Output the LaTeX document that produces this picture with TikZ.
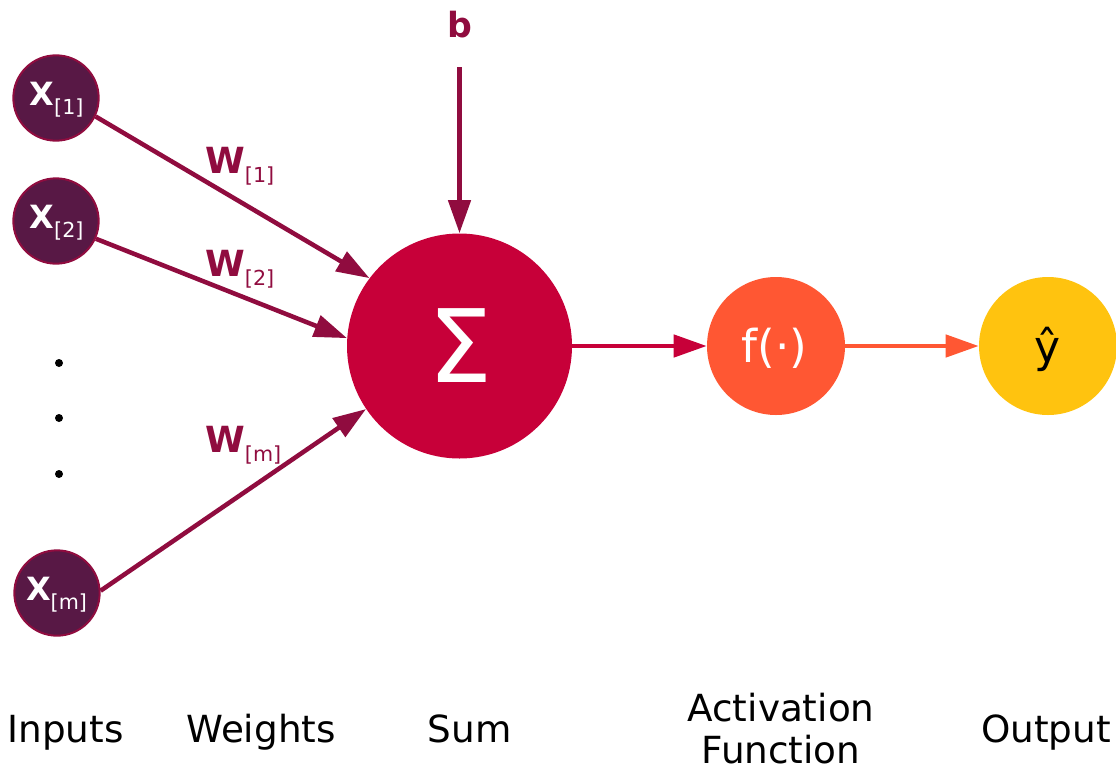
\documentclass[tikz,border=0pt]{standalone}
\usepackage{fontspec}
\setmainfont{DejaVu Sans}
\usetikzlibrary{arrows.meta}
\definecolor{cIn}{HTML}{581845}
\definecolor{cW}{HTML}{900C3F}
\definecolor{cSum}{HTML}{C70039}
\definecolor{cAct}{HTML}{FF5733}
\definecolor{cOut}{HTML}{FFC30F}
\newcommand\myXlab[1]{\fontsize{24}{24}\selectfont\bfseries X\raisebox{-6.75pt}{\fontsize{15.5}{15.5}\selectfont\mdseries[#1]}}
\newcommand\myWlab[1]{\fontsize{27}{27}\selectfont\bfseries W\raisebox{-6.75pt}{\fontsize{15.5}{15.5}\selectfont\mdseries[#1]}}
\begin{document}
\begin{tikzpicture}[x=0.75pt,y=-0.75pt,
  inputnode/.style={circle, fill=cIn, draw=cW, line width=1.5pt, minimum size=64pt, inner sep=0pt},
  sumnode/.style={circle, fill=cSum, minimum size=168.75pt, inner sep=0pt},
  actnode/.style={circle, fill=cAct, minimum size=103.5pt, inner sep=0pt},
  outnode/.style={circle, fill=cOut, minimum size=103.5pt, inner sep=0pt},
  dotnode/.style={circle, fill=black, minimum size=6pt, inner sep=0pt},
  xtext/.style={text=white, inner sep=0pt, anchor=base},
  wtext/.style={text=cW, inner sep=0pt, anchor=base west},
  lab/.style={inner sep=0pt, anchor=base, font=\fontsize{28}{31.5}\selectfont},
  tip/.style={-{Triangle[length=24.75pt,width=16.5pt]}},
  warrow/.style={draw=cW, line width=3.4pt, tip},
  sarrow/.style={draw=cSum, line width=3.4pt, tip},
  aarrow/.style={draw=cAct, line width=3.4pt, tip}
]
\useasboundingbox (0,0) rectangle (1116,768);
% neurons
\node[inputnode] (x1) at (56,98) {};
\node[inputnode] (x2) at (56,221) {};
\node[inputnode] (xm) at (57,593) {};
\node[sumnode] (sum) at (459.5,346) {};
\node[actnode] (act) at (776,346) {};
\node[outnode] (out) at (1048,346) {};
% input texts
\node[xtext] (x1t) at (56.5,105) {\myXlab{1}};
\node[xtext] (x2t) at (56.5,228) {\myXlab{2}};
\node[xtext] (xmt) at (56.5,600) {\myXlab{m}};
% dots
\node[dotnode] (d1) at (59,363) {};
\node[dotnode] (d2) at (59,418) {};
\node[dotnode] (d3) at (59,474) {};
% bias
\node[anchor=base, inner sep=0pt, text=cW] (b) at (459.5,37) {\fontsize{26}{26}\selectfont\bfseries b};
\coordinate (bs) at (459.5,67);
% connectors
\draw[warrow] (x1.-25) -- (sum.143);
\draw[warrow] (x2.-24) -- (sum.176);
\draw[warrow] (xm.3) -- (sum.214);
\draw[warrow] (bs) -- (sum);
\draw[sarrow] (sum) -- (act);
\draw[aarrow] (act) -- (out);
% weight labels
\node[wtext] (w1) at (205,173) {\myWlab{1}};
\node[wtext] (w2) at (205,276) {\myWlab{2}};
\node[wtext] (wm) at (205,452) {\myWlab{m}};
% symbols
\node[anchor=base, inner sep=0pt, text=white] (sig) at (461,382) {\fontsize{76}{76}\selectfont Σ};
\node[anchor=base, inner sep=0pt, text=white] (ft) at (774.5,362) {\fontsize{34}{34}\selectfont f(·)};
\node[anchor=base, inner sep=0pt, text=black] (yt) at (1048,362) {\fontsize{33}{33}\selectfont ŷ};
% bottom labels
\node[lab] (linputs) at (65.5,742) {Inputs};
\node[lab] (lweights) at (261,742) {Weights};
\node[lab] (lsum) at (469.5,742) {Sum};
\node[lab, align=center] (lact) at (781,763) {Activation\\Function};
\node[lab] (lout) at (1046,742) {Output};
\end{tikzpicture}
\end{document}
